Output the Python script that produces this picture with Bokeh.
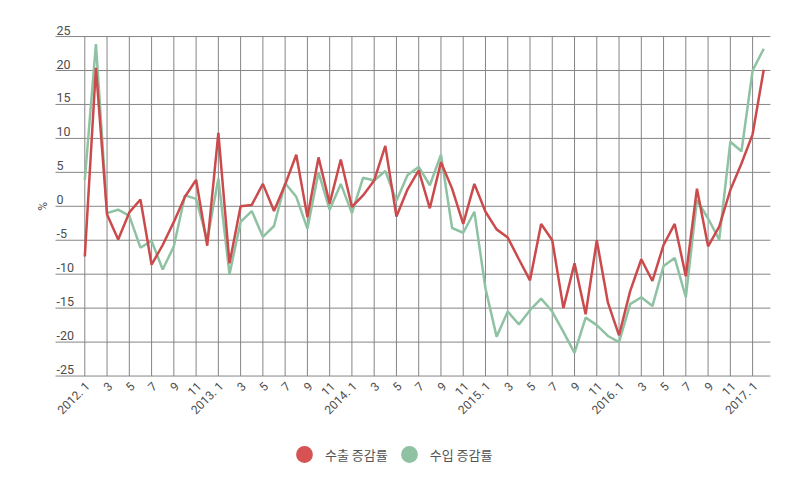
from math import pi
from bokeh.plotting import figure
from bokeh.models import Range1d, Legend, LegendItem
from bokeh.core.properties import value
from bokeh.embed import file_html
from bokeh.resources import INLINE

# Monthly growth rates (%), 2012.1 - 2017.2
export_rate = [-7.4, 20.4, -1.2, -4.9, -0.9, 1.0, -8.6, -5.7, -2.3, 1.4,
               3.9, -5.8, 10.8, -8.4, 0.0, 0.2, 3.3, -0.7, 3.2, 7.6,
               -1.6, 7.2, 0.4, 6.9, -0.1, 1.6, 3.8, 8.9, -1.5, 2.5,
               5.3, -0.3, 6.5, 2.6, -2.6, 3.3, -0.8, -3.4, -4.6, -7.8,
               -10.9, -2.6, -5.0, -15.0, -8.4, -15.9, -5.0, -14.2, -19.0, -12.5,
               -7.8, -11.0, -5.7, -2.6, -10.3, 2.6, -5.9, -3.0, 2.4, 6.3,
               10.6, 20.1]
import_rate = [3.9, 23.9, -1.0, -0.5, -1.4, -6.1, -5.1, -9.3, -5.9, 1.6,
               1.1, -5.0, 4.1, -10.0, -2.3, -0.7, -4.5, -2.9, 3.4, 1.4,
               -3.3, 5.0, -0.5, 3.3, -1.0, 4.2, 3.8, 5.2, 0.8, 4.6,
               5.8, 3.1, 7.6, -3.2, -3.9, -0.8, -12.1, -19.2, -15.5, -17.4,
               -15.3, -13.6, -15.5, -18.5, -21.6, -16.4, -17.5, -19.1, -20.0, -14.4,
               -13.4, -14.7, -8.8, -7.6, -13.4, 0.9, -1.8, -4.9, 9.5, 8.1,
               20.0, 23.2]
tick_labels = ["2012. 1", "3", "5", "7", "9", "11",
               "2013. 1", "3", "5", "7", "9", "11",
               "2014. 1", "3", "5", "7", "9", "11",
               "2015. 1", "3", "5", "7", "9", "11",
               "2016. 1", "3", "5", "7", "9", "11",
               "2017. 1"]
y_ticks = [25, 20, 15, 10, 5, 0, -5, -10, -15, -20, -25]
series_names = ["수출 증감률", "수입 증감률"]
y_title = "%"

RED = "#cb4a4c"
RED_DOT = "#d65253"
GREEN = "#8fc2a3"
GRID = "#858585"
TXT = "#4d4d4d"

W, H = 784, 464
x = list(range(len(export_rate)))
tick_pos = list(range(0, len(x), 2))

# layout (month index / value units)
X_START, X_END = -7.574, 62.866
Y_START, Y_END = -38.03, 30.31
GRID_LEFT, GRID_RIGHT = -2.63, 61.6
LABEL_X = -2.54
TITLE_X = -3.8

p = figure(width=W, height=H, output_backend="svg", toolbar_location=None,
           x_range=Range1d(X_START, X_END), y_range=Range1d(Y_START, Y_END),
           min_border=0)
p.outline_line_color = None
p.grid.visible = False
p.axis.visible = False

# grid lines
p.segment(x0=tick_pos, x1=tick_pos, y0=[min(y_ticks)] * len(tick_pos),
          y1=[max(y_ticks)] * len(tick_pos), line_color=GRID, line_width=1)
p.segment(x0=[GRID_LEFT] * len(y_ticks), x1=[GRID_RIGHT] * len(y_ticks),
          y0=y_ticks, y1=y_ticks, line_color=GRID, line_width=1)

# y labels above grid lines
p.text(x=[LABEL_X] * len(y_ticks), y=y_ticks, text=[str(v) for v in y_ticks],
       text_font=value("Roboto"), text_font_size="12.5px", text_color=TXT,
       text_align="left", text_baseline="bottom", y_offset=-2)
p.text(x=[TITLE_X], y=[0], text=[y_title], angle=pi / 2,
       text_font=value("Roboto"), text_font_size="12px", text_color=TXT,
       text_align="center", text_baseline="middle")

# x labels (rotated)
p.text(x=tick_pos, y=[min(y_ticks)] * len(tick_pos), text=tick_labels,
       angle=pi / 4, text_font=value("Roboto"), text_font_size="12px",
       text_color=TXT, text_align="right", text_baseline="middle",
       x_offset=3, y_offset=8)

# data lines
p.line(x, import_rate, line_color=GREEN, line_width=2.5)
p.line(x, export_rate, line_color=RED, line_width=2.5)

# legend markers (size 0 on the plot; the legend draws its own circle)
r_exp = p.scatter(x, export_rate, marker="circle", size=0,
                  fill_color=RED_DOT, line_color=None)
r_imp = p.scatter(x, import_rate, marker="circle", size=0,
                  fill_color=GREEN, line_color=None)
legend = Legend(items=[LegendItem(label=series_names[0], renderers=[r_exp]),
                       LegendItem(label=series_names[1], renderers=[r_imp])],
                orientation="horizontal", location=(283, -11),
                glyph_width=42, glyph_height=42, label_standoff=-2, spacing=-8,
                padding=0, margin=0, border_line_color=None,
                background_fill_alpha=0,
                label_text_font="Noto Sans CJK KR", label_text_font_size="13px",
                label_text_color="#555555")
p.add_layout(legend)

open("out.html", "w").write(file_html(p, INLINE))
